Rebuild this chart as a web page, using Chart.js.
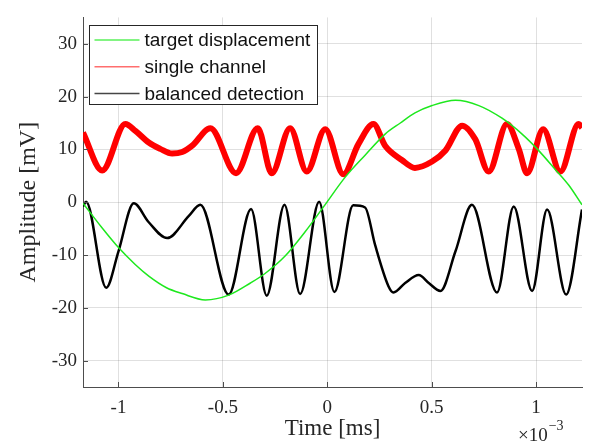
<!DOCTYPE html>
<html>
<head>
<meta charset="utf-8">
<script src="https://cdn.jsdelivr.net/npm/chart.js"></script>
<style>
  body { margin: 0; background: #fff; }
  #caixa { width: 590px; height: 448px; }
</style>
</head>
<body>
<div id="caixa"><canvas id="myChart"></canvas></div>
<script>
// tempo em 10^-3 ms, amplitude em mV
const tempoAlvo = [-1.17, -1.08, -1.0, -0.92, -0.855, -0.77, -0.695, -0.584, -0.472, -0.368, -0.298, -0.202, -0.106, -0.011,
    0.085, 0.181, 0.277, 0.35, 0.42, 0.502, 0.614, 0.726, 0.837, 0.933, 1.005, 1.092, 1.157, 1.22];
const alvo = [-0.2, -4.8, -8.6, -11.8, -14.0, -16.2, -17.3, -18.5, -17.6, -15.3, -13.5, -10.2, -5.6, -0.5,
    4.7, 8.9, 12.9, 15.0, 16.9, 18.3, 19.3, 18.3, 15.9, 12.9, 10.1, 6.2, 3.2, -0.5];

const tempoCanal = [-1.17, -1.078, -0.967, -0.919, -0.855, -0.8, -0.743, -0.695, -0.647, -0.56, -0.437, -0.333, -0.266,
    -0.178, -0.098, -0.01, 0.077, 0.149, 0.221, 0.277, 0.357, 0.42, 0.502, 0.566, 0.646, 0.709, 0.773, 0.861,
    0.917, 0.957, 1.034, 1.116, 1.204, 1.22];
const canal = [13.2, 6.0, 14.8, 13.5, 11.3, 10.1, 9.2, 9.5, 10.7, 14.0, 5.5, 14.0, 5.5,
    14.0, 5.8, 13.8, 5.3, 11.0, 14.8, 10.7, 8.0, 6.5, 7.7, 9.8, 14.5, 11.9, 5.8, 14.8,
    10.1, 5.5, 13.8, 5.8, 14.8, 14.1];

const tempoBalanceado = [-1.17, -1.155, -1.059, -1.0, -0.927, -0.855, -0.767, -0.663, -0.608, -0.472, -0.365, -0.29,
    -0.205, -0.13, -0.039, 0.034, 0.124, 0.181, 0.229, 0.293, 0.317, 0.373, 0.438, 0.486, 0.542, 0.614, 0.693,
    0.813, 0.893, 0.981, 1.053, 1.144, 1.22];
const balanceado = [-0.8, 0.1, -16.2, -9.3, -0.2, -3.8, -6.8, -2.6, -0.5, -17.5, -1.3, -17.7,
    -0.5, -17.4, 0.1, -17.0, -0.6, -1.0, -8.1, -15.9, -17.1, -15.3, -13.8, -15.3, -16.8, -9.3, -0.5,
    -17.1, -0.8, -16.8, -1.4, -17.5, -1.4];

const nomes = ['target displacement', 'single channel', 'balanced detection'];
const ticksX = [-1, -0.5, 0, 0.5, 1];
const ticksY = [-30, -20, -10, 0, 10, 20, 30];

const corEixo = '#4d4d4d';
const corTexto = '#262626';
const corGrade = 'rgba(38,38,38,0.14)';

function pontos(t, v) {
    return t.map(function (x, i) { return { x: x, y: v[i] }; });
}

// legenda com caixa, dentro da area do grafico
const legendaPlugin = {
    id: 'legenda',
    afterDraw(chart) {
        const ctx = chart.ctx;
        const a = chart.chartArea;
        const x0 = Math.round(a.left + 6) + 0.5;
        const y0 = Math.round(a.top + 8) + 0.5;
        ctx.save();
        ctx.fillStyle = '#fff';
        ctx.fillRect(x0, y0, 228, 79);
        ctx.strokeStyle = corTexto;
        ctx.lineWidth = 1;
        ctx.strokeRect(x0, y0, 228, 79);
        ctx.font = '19px "Liberation Sans"';
        ctx.textBaseline = 'middle';
        ctx.textAlign = 'left';
        const cores = ['rgb(90,240,90)', 'rgb(255,110,110)', 'rgb(70,70,70)'];
        chart.data.datasets.forEach(function (ds, i) {
            const y = y0 + 14.5 + i * 26.7;
            ctx.strokeStyle = cores[i];
            ctx.lineWidth = 1.5;
            ctx.beginPath();
            ctx.moveTo(x0 + 5, y);
            ctx.lineTo(x0 + 50, y);
            ctx.stroke();
            ctx.fillStyle = '#111';
            ctx.fillText(ds.label, x0 + 55, y + 1);
        });
        ctx.restore();
    }
};

// marcas dos ticks para dentro + expoente do eixo x
const ticksPlugin = {
    id: 'ticksDentro',
    afterDraw(chart) {
        const ctx = chart.ctx;
        const a = chart.chartArea;
        const sx = chart.scales.x;
        const sy = chart.scales.y;
        ctx.save();
        ctx.strokeStyle = corEixo;
        ctx.lineWidth = 1;
        ctx.beginPath();
        ticksX.forEach(function (v) {
            const px = Math.round(sx.getPixelForValue(v)) + 0.5;
            ctx.moveTo(px, a.bottom);
            ctx.lineTo(px, a.bottom - 5);
        });
        ticksY.forEach(function (v) {
            const py = Math.round(sy.getPixelForValue(v)) + 0.5;
            ctx.moveTo(a.left, py);
            ctx.lineTo(a.left + 5, py);
        });
        ctx.stroke();

        ctx.fillStyle = corTexto;
        ctx.textBaseline = 'alphabetic';
        ctx.textAlign = 'left';
        ctx.font = '19px "Liberation Serif"';
        const base = '\u00d710';
        const xb = a.right - 64;
        ctx.fillText(base, xb, 441);
        const w = ctx.measureText(base).width;
        ctx.font = '14px "Liberation Serif"';
        ctx.fillText('\u22123', xb + w + 1, 430);
        ctx.restore();
    }
};

const dados = {
    datasets: [{
        label: nomes[0],
        data: pontos(tempoAlvo, alvo),
        borderColor: 'rgb(30,232,30)',
        borderWidth: 1.5,
        pointRadius: 0,
        cubicInterpolationMode: 'monotone',
        clip: 0
    },
    {
        label: nomes[1],
        data: pontos(tempoCanal, canal),
        borderColor: 'rgb(255,0,0)',
        borderWidth: 6,
        pointRadius: 0,
        cubicInterpolationMode: 'monotone',
        clip: 0
    },
    {
        label: nomes[2],
        data: pontos(tempoBalanceado, balanceado),
        borderColor: '#000',
        borderWidth: 2.5,
        pointRadius: 0,
        cubicInterpolationMode: 'monotone',
        clip: 0
    }]
};

const config = {
    type: 'line',
    data: dados,
    options: {
        animation: false,
        responsive: true,
        maintainAspectRatio: false,
        layout: { padding: { top: 3, right: 8, left: 0, bottom: 0 } },
        plugins: {
            legend: { display: false },
            tooltip: { enabled: false }
        },
        scales: {
            x: {
                type: 'linear',
                min: -1.17,
                max: 1.22,
                afterBuildTicks: function (s) { s.ticks = ticksX.map(function (v) { return { value: v }; }); },
                afterFit: function (s) { s.height = 61; },
                grid: { color: corGrade, drawTicks: false },
                border: { color: corEixo },
                ticks: {
                    padding: 10,
                    color: corTexto,
                    maxRotation: 0,
                    autoSkip: false,
                    font: { family: 'Liberation Serif', size: 19 },
                    callback: function (v) { return String(v); }
                },
                title: {
                    display: true,
                    text: 'Time [ms]',
                    color: corTexto,
                    font: { family: 'Liberation Serif', size: 23 },
                    padding: { top: 0, bottom: 5 }
                }
            },
            y: {
                min: -35,
                max: 35,
                afterBuildTicks: function (s) { s.ticks = ticksY.map(function (v) { return { value: v }; }); },
                afterFit: function (s) { s.width = 83; },
                grid: { color: corGrade, drawTicks: false },
                border: { color: corEixo },
                ticks: {
                    padding: 6,
                    color: corTexto,
                    font: { family: 'Liberation Serif', size: 19 },
                    callback: function (v) { return String(v); }
                },
                title: {
                    display: true,
                    text: 'Amplitude [mV]',
                    color: corTexto,
                    font: { family: 'Liberation Serif', size: 24 },
                    padding: { top: 14, bottom: 0 }
                }
            }
        }
    },
    plugins: [legendaPlugin, ticksPlugin]
};

let myChart = new Chart(document.getElementById('myChart'), config);
</script>
</body>
</html>
